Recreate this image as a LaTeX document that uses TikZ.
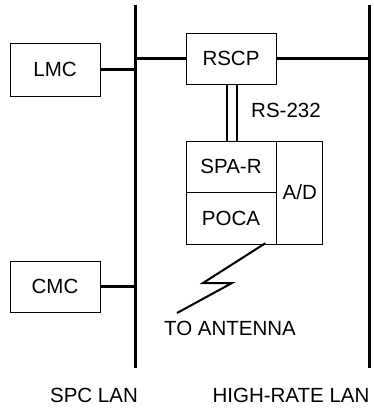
\documentclass[tikz,border=0pt]{standalone}
\usepackage{fontspec}
\setmainfont{Liberation Sans}
\usepackage{tikz}
\usetikzlibrary{positioning}

\begin{document}
\begin{tikzpicture}[x=1pt, y=-1pt, node distance=0pt,
  unit/.style={rectangle, draw=black, line width=0.8pt, inner sep=0pt, minimum width=90pt, minimum height=51pt, font=\fontsize{20.5}{24}\selectfont},
  lan/.style={draw, line width=3pt},
  link/.style={draw, line width=2.6pt},
  serial/.style={draw, line width=2pt},
  lbl/.style={inner sep=0pt, font=\fontsize{20.5}{24}\selectfont}]

  \useasboundingbox (0,0) rectangle (374,408);

  % LAN buses
  \coordinate (spctop) at (135,5);
  \coordinate (spcbot) at (135,368);
  \coordinate (hrtop) at (369,5);
  \coordinate (hrbot) at (369,368);
  \path [lan] (spctop) -- (spcbot);
  \path [lan] (hrtop) -- (hrbot);

  % Consoles on the SPC LAN
  \node [unit, minimum height=53pt] (lmc) at (55,69.5) {LMC};
  \node [unit] (cmc) at (55,286.5) {CMC};

  % Remote station
  \node [unit] (rscp) at (231,58.5) {RSCP};
  \node [unit] (spar) at (231,166.5) {SPA-R};
  \node [unit, below=0pt of spar, minimum height=52pt] (poca) {POCA};
  \node [unit, minimum width=46pt, minimum height=103pt, anchor=north west] (ad) at (spar.north east) {A/D};

  % Labels
  \node [lbl] (rs) at (286,110) {RS-232};
  \node [lbl] (ant) at (230,328) {TO ANTENNA};
  \node [lbl] (spc) at (94,395) {SPC LAN};
  \node [lbl] (hr) at (291,395) {HIGH-RATE LAN};

  % Connectors
  \path [link] (lmc.east) -- (lmc.east -| spctop);
  \path [link] (cmc.east) -- (cmc.east -| spctop);
  \path [link] (rscp.west) -- (rscp.west -| spctop);
  \path [link] (rscp.east) -- (rscp.east -| hrtop);
  \path [serial] ([xshift=-4pt]rscp.south) -- ([xshift=-4pt]spar.north);
  \path [serial] ([xshift=6pt]rscp.south) -- ([xshift=6pt]spar.north);

  % Radio link
  \coordinate (tip) at (177,313);
  \draw [line width=2pt, line join=miter] ([xshift=-11pt, yshift=2pt]poca.south east) -- (203,283) -- (232,283) -- (tip);
\end{tikzpicture}
\end{document}
